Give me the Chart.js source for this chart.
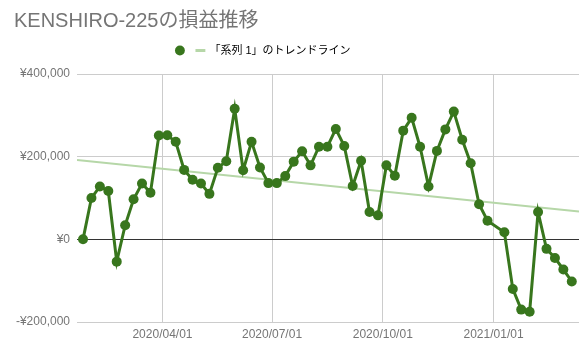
<!DOCTYPE html>
<html>
<head>
<meta charset="utf-8">
<script src="https://cdn.jsdelivr.net/npm/chart.js@4.4.0/dist/chart.umd.min.js"></script>
<style>
  body { margin: 0; background: #fff; }
</style>
</head>
<body>
<canvas id="chart" width="586" height="353"></canvas>
<script>
// weekly values (Sundays), no point for 2021/01/03
const dates = [
    '2020/01/26', '2020/02/02', '2020/02/09', '2020/02/16', '2020/02/23',
    '2020/03/01', '2020/03/08', '2020/03/15', '2020/03/22', '2020/03/29',
    '2020/04/05', '2020/04/12', '2020/04/19', '2020/04/26', '2020/05/03',
    '2020/05/10', '2020/05/17', '2020/05/24', '2020/05/31', '2020/06/07',
    '2020/06/14', '2020/06/21', '2020/06/28', '2020/07/05', '2020/07/12',
    '2020/07/19', '2020/07/26', '2020/08/02', '2020/08/09', '2020/08/16',
    '2020/08/23', '2020/08/30', '2020/09/06', '2020/09/13', '2020/09/20',
    '2020/09/27', '2020/10/04', '2020/10/11', '2020/10/18', '2020/10/25',
    '2020/11/01', '2020/11/08', '2020/11/15', '2020/11/22', '2020/11/29',
    '2020/12/06', '2020/12/13', '2020/12/20', '2020/12/27', '2021/01/10',
    '2021/01/17', '2021/01/24', '2021/01/31', '2021/02/07', '2021/02/14',
    '2021/02/21', '2021/02/28', '2021/03/07'
];

const profit = [
    0, 100000, 128000, 117000, -54000, 34000, 97000, 135000, 113000, 251000,
    252000, 236000, 168000, 144000, 135000, 110000, 173000, 189000, 316000, 167000,
    236000, 174000, 136000, 136000, 153000, 188000, 213000, 179000, 224000, 224000,
    267000, 226000, 129000, 190000, 66000, 58000, 179000, 154000, 263000, 294000,
    224000, 128000, 214000, 266000, 309000, 241000, 184000, 85000, 45000, 17000,
    -120000, -170000, -175000, 66000, -23000, -45000, -73000, -102000
];

const tickLabels = ['2020/04/01', '2020/07/01', '2020/10/01', '2021/01/01'];
const axisRange = ['2020/01/21', '2021/03/13'];

const seriesName = '';
const trendName = '「系列 1」のトレンドライン';

const toDay = s => Date.UTC(+s.slice(0, 4), +s.slice(5, 7) - 1, +s.slice(8, 10)) / 86400000;

const xs = dates.map(toDay);
const xMin = toDay(axisRange[0]);
const xMax = toDay(axisRange[1]);

// least squares trendline
const n = xs.length;
const mx = xs.reduce((a, b) => a + b, 0) / n;
const my = profit.reduce((a, b) => a + b, 0) / n;
let sxy = 0, sxx = 0;
for (let i = 0; i < n; i++) {
    sxy += (xs[i] - mx) * (profit[i] - my);
    sxx += (xs[i] - mx) * (xs[i] - mx);
}
const slope = sxy / sxx;
const icpt = my - slope * mx;

const green = '#38761d';
const trendColor = '#b6d7a8';

Chart.defaults.font.family = '"Liberation Sans", Arial, "Noto Sans CJK JP", sans-serif';
Chart.defaults.color = '#757575';

const legendShift = {
    id: 'legendShift',
    afterLayout(chart) {
        chart.legend.left -= 33;
        chart.legend.right -= 33;
    }
};

new Chart(document.getElementById('chart'), {
    type: 'line',
    data: {
        datasets: [
            {
                label: seriesName,
                data: xs.map((x, i) => ({ x: x, y: profit[i] })),
                borderColor: green,
                backgroundColor: green,
                borderWidth: 3,
                pointRadius: 5,
                pointBorderWidth: 0,
                pointBackgroundColor: green,
                tension: 0
            },
            {
                label: trendName,
                data: [xMin, xMax].map(x => ({ x: x, y: icpt + slope * x })),
                borderColor: trendColor,
                borderWidth: 2,
                pointRadius: 0
            }
        ]
    },
    options: {
        responsive: false,
        animation: false,
        layout: { padding: { left: 14, right: 7, top: 0, bottom: 6.6 } },
        plugins: {
            tooltip: { enabled: false },
            title: {
                display: true,
                text: 'KENSHIRO-225の損益推移',
                align: 'start',
                color: '#757575',
                font: { size: 20, weight: 'normal' },
                padding: { top: 9, bottom: 4 }
            },
            legend: {
                weight: 1700,
                labels: {
                    usePointStyle: true,
                    boxWidth: 7,
                    boxHeight: 7,
                    padding: 8,
                    color: '#757575',
                    font: { size: 11 },
                    generateLabels: () => [
                        { text: seriesName, fillStyle: green, strokeStyle: green, lineWidth: 0, pointStyle: 'circle', datasetIndex: 0 },
                        { text: trendName, fillStyle: trendColor, strokeStyle: trendColor, lineWidth: 3, pointStyle: 'line', datasetIndex: 1 }
                    ]
                }
            },
            // empty subtitle used as a gap under the legend
            subtitle: {
                display: true,
                text: '',
                font: { size: 8, lineHeight: 1 },
                padding: 0
            }
        },
        scales: {
            x: {
                type: 'linear',
                min: xMin,
                max: xMax,
                afterBuildTicks: scale => {
                    scale.ticks = tickLabels.map(t => ({ value: toDay(t) }));
                },
                ticks: {
                    padding: 5,
                    font: { size: 12 },
                    callback: (value) => tickLabels.find(t => toDay(t) === value) || ''
                },
                grid: { color: '#cccccc', drawTicks: false },
                border: { display: false }
            },
            y: {
                min: -200000,
                max: 400000,
                afterFit: scale => { scale.width = 63; },
                ticks: {
                    stepSize: 200000,
                    padding: 7,
                    font: { size: 12 },
                    callback: v => (v < 0 ? '-' : '') + '¥' + Math.abs(v).toLocaleString('en-US')
                },
                grid: {
                    color: ctx => ctx.tick && ctx.tick.value === 0 ? '#333333' : '#cccccc',
                    drawTicks: false
                },
                border: { display: false }
            }
        }
    },
    plugins: [legendShift]
});
</script>
</body>
</html>
